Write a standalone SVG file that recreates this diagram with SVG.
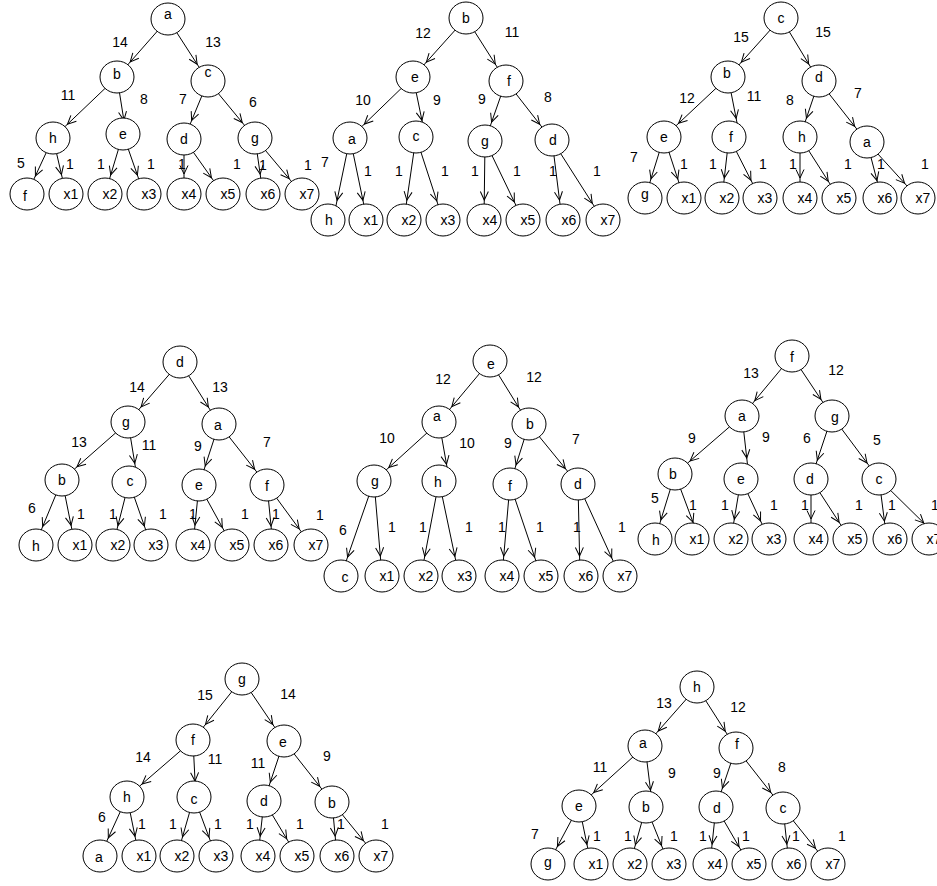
<svg xmlns="http://www.w3.org/2000/svg" width="937" height="886" viewBox="0 0 937 886">
<defs>
<marker id="arr" markerUnits="userSpaceOnUse" markerWidth="60" markerHeight="20" refX="50" refY="10" orient="auto"><path d="M21.5,6 L30,10 L21.5,14" fill="none" stroke="#000" stroke-width="1"/></marker>
<style>
.edges line{stroke:#000;stroke-width:1;marker-end:url(#arr)}
.node ellipse{fill:#fff;stroke:#000;stroke-width:1}
text{font-family:"Liberation Sans",Arial,sans-serif;font-size:14px;text-anchor:middle;dominant-baseline:central;fill:#000}
</style>
</defs>
<rect width="937" height="886" fill="#fff"/>

<!-- Tree 1 -->
<g id="tree1">
<g id="t1-edges" class="edges">
<line x1="168" y1="19" x2="117" y2="77"/><text x="120" y="42">14</text>
<line x1="168" y1="19" x2="208" y2="81"/><text x="213" y="42">13</text>
<line x1="117" y1="77" x2="53" y2="138"/><text x="68" y="95">11</text>
<line x1="117" y1="77" x2="127" y2="140"/><text x="144" y="99">8</text>
<line x1="208" y1="81" x2="184" y2="139"/><text x="183" y="99">7</text>
<line x1="208" y1="81" x2="255" y2="138"/><text x="253" y="102">6</text>
<line x1="53" y1="138" x2="27" y2="194"/><text x="21" y="163">5</text>
<line x1="53" y1="138" x2="66" y2="194"/><text x="70" y="164">1</text>
<line x1="123" y1="134" x2="105" y2="194"/><text x="101" y="164">1</text>
<line x1="123" y1="134" x2="144" y2="194"/><text x="151" y="164">1</text>
<line x1="184" y1="139" x2="184" y2="194"/><text x="182" y="164">1</text>
<line x1="184" y1="139" x2="223" y2="194"/><text x="237" y="164">1</text>
<line x1="255" y1="138" x2="263" y2="194"/><text x="263" y="165">1</text>
<line x1="255" y1="138" x2="302" y2="194"/><text x="308" y="165">1</text>
</g>
<g id="t1-a" class="node"><ellipse cx="168" cy="19" rx="17" ry="16"/><text x="168" y="14">a</text></g>
<g id="t1-b" class="node"><ellipse cx="117" cy="77" rx="17" ry="16"/><text x="117" y="74">b</text></g>
<g id="t1-c" class="node"><ellipse cx="208" cy="81" rx="17" ry="16"/><text x="208" y="72">c</text></g>
<g id="t1-h" class="node"><ellipse cx="53" cy="138" rx="17" ry="16"/><text x="53" y="138">h</text></g>
<g id="t1-e" class="node"><ellipse cx="123" cy="134" rx="17" ry="16"/><text x="123" y="134">e</text></g>
<g id="t1-d" class="node"><ellipse cx="184" cy="139" rx="17" ry="16"/><text x="184" y="139">d</text></g>
<g id="t1-g" class="node"><ellipse cx="255" cy="138" rx="17" ry="16"/><text x="255" y="138">g</text></g>
<g id="t1-f" class="node"><ellipse cx="27" cy="194" rx="17" ry="16"/><text x="25" y="196">f</text></g>
<g id="t1-x1" class="node"><ellipse cx="66" cy="194" rx="17" ry="16"/><text x="71" y="194">x1</text></g>
<g id="t1-x2" class="node"><ellipse cx="105" cy="194" rx="17" ry="16"/><text x="110" y="194">x2</text></g>
<g id="t1-x3" class="node"><ellipse cx="144" cy="194" rx="17" ry="16"/><text x="149" y="194">x3</text></g>
<g id="t1-x4" class="node"><ellipse cx="184" cy="194" rx="17" ry="16"/><text x="189" y="194">x4</text></g>
<g id="t1-x5" class="node"><ellipse cx="223" cy="194" rx="17" ry="16"/><text x="228" y="194">x5</text></g>
<g id="t1-x6" class="node"><ellipse cx="263" cy="194" rx="17" ry="16"/><text x="268" y="194">x6</text></g>
<g id="t1-x7" class="node"><ellipse cx="302" cy="194" rx="17" ry="16"/><text x="307" y="194">x7</text></g>
</g>

<!-- Tree 2 -->
<g id="tree2">
<g id="t2-edges" class="edges">
<line x1="466" y1="18" x2="413" y2="77"/><text x="423" y="33">12</text>
<line x1="466" y1="18" x2="506" y2="81"/><text x="512" y="32">11</text>
<line x1="413" y1="77" x2="350" y2="138"/><text x="363" y="100">10</text>
<line x1="413" y1="77" x2="426" y2="140"/><text x="437" y="100">9</text>
<line x1="506" y1="81" x2="485" y2="141"/><text x="482" y="99">9</text>
<line x1="506" y1="81" x2="552" y2="140"/><text x="548" y="97">8</text>
<line x1="350" y1="138" x2="333" y2="220"/><text x="325" y="162">7</text>
<line x1="350" y1="138" x2="367" y2="220"/><text x="368" y="171">1</text>
<line x1="416" y1="137" x2="404" y2="220"/><text x="399" y="171">1</text>
<line x1="416" y1="137" x2="443" y2="220"/><text x="445" y="171">1</text>
<line x1="485" y1="141" x2="484" y2="220"/><text x="475" y="171">1</text>
<line x1="485" y1="141" x2="523" y2="220"/><text x="517" y="171">1</text>
<line x1="552" y1="140" x2="562" y2="220"/><text x="553" y="171">1</text>
<line x1="552" y1="140" x2="603" y2="220"/><text x="597" y="171">1</text>
</g>
<g id="t2-b" class="node"><ellipse cx="466" cy="18" rx="17" ry="16"/><text x="466" y="18">b</text></g>
<g id="t2-e" class="node"><ellipse cx="413" cy="77" rx="17" ry="16"/><text x="415" y="77">e</text></g>
<g id="t2-f" class="node"><ellipse cx="506" cy="81" rx="17" ry="16"/><text x="509" y="81">f</text></g>
<g id="t2-a" class="node"><ellipse cx="350" cy="138" rx="17" ry="16"/><text x="352" y="139">a</text></g>
<g id="t2-c" class="node"><ellipse cx="416" cy="137" rx="17" ry="16"/><text x="416" y="136">c</text></g>
<g id="t2-g" class="node"><ellipse cx="485" cy="141" rx="17" ry="16"/><text x="485" y="141">g</text></g>
<g id="t2-d" class="node"><ellipse cx="552" cy="140" rx="17" ry="16"/><text x="553" y="140">d</text></g>
<g id="t2-h" class="node"><ellipse cx="328" cy="220" rx="17" ry="16"/><text x="329" y="220">h</text></g>
<g id="t2-x1" class="node"><ellipse cx="366" cy="220" rx="17" ry="16"/><text x="371" y="220">x1</text></g>
<g id="t2-x2" class="node"><ellipse cx="404" cy="220" rx="17" ry="16"/><text x="409" y="220">x2</text></g>
<g id="t2-x3" class="node"><ellipse cx="443" cy="220" rx="17" ry="16"/><text x="448" y="220">x3</text></g>
<g id="t2-x4" class="node"><ellipse cx="484" cy="220" rx="17" ry="16"/><text x="490" y="220">x4</text></g>
<g id="t2-x5" class="node"><ellipse cx="523" cy="220" rx="17" ry="16"/><text x="528" y="220">x5</text></g>
<g id="t2-x6" class="node"><ellipse cx="563" cy="220" rx="17" ry="16"/><text x="569" y="220">x6</text></g>
<g id="t2-x7" class="node"><ellipse cx="603" cy="220" rx="17" ry="16"/><text x="608" y="220">x7</text></g>
</g>

<!-- Tree 3 -->
<g id="tree3">
<g id="t3-edges" class="edges">
<line x1="781" y1="18" x2="728" y2="77"/><text x="741" y="37">15</text>
<line x1="781" y1="18" x2="819" y2="81"/><text x="823" y="32">15</text>
<line x1="728" y1="77" x2="664" y2="137"/><text x="687" y="98">12</text>
<line x1="728" y1="77" x2="740" y2="138"/><text x="754" y="96">11</text>
<line x1="819" y1="81" x2="800" y2="137"/><text x="790" y="100">8</text>
<line x1="819" y1="81" x2="867" y2="142"/><text x="858" y="93">7</text>
<line x1="664" y1="137" x2="645" y2="198"/><text x="634" y="157">7</text>
<line x1="664" y1="137" x2="684" y2="198"/><text x="684" y="164">1</text>
<line x1="729" y1="137" x2="722" y2="198"/><text x="713" y="164">1</text>
<line x1="729" y1="137" x2="760" y2="198"/><text x="763" y="164">1</text>
<line x1="800" y1="137" x2="800" y2="198"/><text x="793" y="164">1</text>
<line x1="800" y1="137" x2="839" y2="198"/><text x="848" y="164">1</text>
<line x1="867" y1="142" x2="882" y2="200"/><text x="881" y="164">1</text>
<line x1="867" y1="142" x2="918" y2="198"/><text x="925" y="164">1</text>
</g>
<g id="t3-c" class="node"><ellipse cx="781" cy="18" rx="17" ry="16"/><text x="781" y="18">c</text></g>
<g id="t3-b" class="node"><ellipse cx="728" cy="77" rx="17" ry="16"/><text x="727" y="73">b</text></g>
<g id="t3-d" class="node"><ellipse cx="819" cy="81" rx="17" ry="16"/><text x="819" y="77">d</text></g>
<g id="t3-e" class="node"><ellipse cx="664" cy="137" rx="17" ry="16"/><text x="664" y="137">e</text></g>
<g id="t3-f" class="node"><ellipse cx="729" cy="137" rx="17" ry="16"/><text x="731" y="137">f</text></g>
<g id="t3-h" class="node"><ellipse cx="800" cy="137" rx="17" ry="16"/><text x="802" y="137">h</text></g>
<g id="t3-a" class="node"><ellipse cx="867" cy="142" rx="17" ry="16"/><text x="867" y="142">a</text></g>
<g id="t3-g" class="node"><ellipse cx="645" cy="198" rx="17" ry="16"/><text x="645" y="194">g</text></g>
<g id="t3-x1" class="node"><ellipse cx="684" cy="198" rx="17" ry="16"/><text x="689" y="198">x1</text></g>
<g id="t3-x2" class="node"><ellipse cx="722" cy="198" rx="17" ry="16"/><text x="727" y="198">x2</text></g>
<g id="t3-x3" class="node"><ellipse cx="760" cy="198" rx="17" ry="16"/><text x="765" y="198">x3</text></g>
<g id="t3-x4" class="node"><ellipse cx="800" cy="198" rx="17" ry="16"/><text x="805" y="198">x4</text></g>
<g id="t3-x5" class="node"><ellipse cx="839" cy="198" rx="17" ry="16"/><text x="844" y="198">x5</text></g>
<g id="t3-x6" class="node"><ellipse cx="880" cy="198" rx="17" ry="16"/><text x="885" y="198">x6</text></g>
<g id="t3-x7" class="node"><ellipse cx="918" cy="198" rx="17" ry="16"/><text x="923" y="198">x7</text></g>
</g>

<!-- Tree 4 -->
<g id="tree4">
<g id="t4-edges" class="edges">
<line x1="180" y1="362" x2="128" y2="422"/><text x="137" y="387">14</text>
<line x1="180" y1="362" x2="219" y2="424"/><text x="220" y="387">13</text>
<line x1="128" y1="422" x2="62" y2="480"/><text x="79" y="442">13</text>
<line x1="128" y1="422" x2="138" y2="483"/><text x="149" y="445">11</text>
<line x1="219" y1="424" x2="199" y2="485"/><text x="198" y="446">9</text>
<line x1="219" y1="424" x2="267" y2="485"/><text x="267" y="442">7</text>
<line x1="62" y1="480" x2="35" y2="545"/><text x="32" y="508">6</text>
<line x1="62" y1="480" x2="75" y2="545"/><text x="81" y="514">1</text>
<line x1="129" y1="482" x2="113" y2="545"/><text x="113" y="514">1</text>
<line x1="129" y1="482" x2="151" y2="545"/><text x="163" y="514">1</text>
<line x1="199" y1="485" x2="193" y2="545"/><text x="193" y="514">1</text>
<line x1="199" y1="485" x2="232" y2="545"/><text x="245" y="514">1</text>
<line x1="267" y1="485" x2="273" y2="546"/><text x="276" y="514">1</text>
<line x1="267" y1="485" x2="311" y2="545"/><text x="320" y="515">1</text>
</g>
<g id="t4-d" class="node"><ellipse cx="180" cy="362" rx="17" ry="16"/><text x="180" y="362">d</text></g>
<g id="t4-g" class="node"><ellipse cx="128" cy="422" rx="17" ry="16"/><text x="126" y="422">g</text></g>
<g id="t4-a" class="node"><ellipse cx="219" cy="424" rx="17" ry="16"/><text x="218" y="425">a</text></g>
<g id="t4-b" class="node"><ellipse cx="62" cy="480" rx="17" ry="16"/><text x="62" y="480">b</text></g>
<g id="t4-c" class="node"><ellipse cx="129" cy="482" rx="17" ry="16"/><text x="130" y="481">c</text></g>
<g id="t4-e" class="node"><ellipse cx="199" cy="485" rx="17" ry="16"/><text x="199" y="485">e</text></g>
<g id="t4-f" class="node"><ellipse cx="267" cy="485" rx="17" ry="16"/><text x="267" y="486">f</text></g>
<g id="t4-h" class="node"><ellipse cx="36" cy="545" rx="17" ry="16"/><text x="36" y="546">h</text></g>
<g id="t4-x1" class="node"><ellipse cx="75" cy="545" rx="17" ry="16"/><text x="80" y="545">x1</text></g>
<g id="t4-x2" class="node"><ellipse cx="113" cy="545" rx="17" ry="16"/><text x="118" y="545">x2</text></g>
<g id="t4-x3" class="node"><ellipse cx="151" cy="545" rx="17" ry="16"/><text x="156" y="545">x3</text></g>
<g id="t4-x4" class="node"><ellipse cx="193" cy="545" rx="17" ry="16"/><text x="198" y="545">x4</text></g>
<g id="t4-x5" class="node"><ellipse cx="232" cy="545" rx="17" ry="16"/><text x="237" y="545">x5</text></g>
<g id="t4-x6" class="node"><ellipse cx="271" cy="545" rx="17" ry="16"/><text x="276" y="545">x6</text></g>
<g id="t4-x7" class="node"><ellipse cx="311" cy="545" rx="17" ry="16"/><text x="316" y="545">x7</text></g>
</g>

<!-- Tree 5 -->
<g id="tree5">
<g id="t5-edges" class="edges">
<line x1="490" y1="361" x2="439" y2="422"/><text x="443" y="379">12</text>
<line x1="490" y1="361" x2="529" y2="424"/><text x="534" y="377">12</text>
<line x1="439" y1="422" x2="374" y2="481"/><text x="387" y="438">10</text>
<line x1="439" y1="422" x2="450" y2="484"/><text x="467" y="443">10</text>
<line x1="529" y1="424" x2="510" y2="484"/><text x="508" y="443">9</text>
<line x1="529" y1="424" x2="578" y2="484"/><text x="576" y="439">7</text>
<line x1="374" y1="481" x2="341" y2="576"/><text x="343" y="530">6</text>
<line x1="374" y1="481" x2="382" y2="576"/><text x="392" y="527">1</text>
<line x1="439" y1="481" x2="421" y2="576"/><text x="423" y="527">1</text>
<line x1="439" y1="481" x2="459" y2="576"/><text x="469" y="527">1</text>
<line x1="510" y1="484" x2="502" y2="576"/><text x="502" y="527">1</text>
<line x1="510" y1="484" x2="541" y2="576"/><text x="540" y="527">1</text>
<line x1="578" y1="484" x2="580" y2="576"/><text x="577" y="527">1</text>
<line x1="578" y1="484" x2="620" y2="576"/><text x="622" y="527">1</text>
</g>
<g id="t5-e" class="node"><ellipse cx="490" cy="361" rx="17" ry="16"/><text x="491" y="364">e</text></g>
<g id="t5-a" class="node"><ellipse cx="439" cy="422" rx="17" ry="16"/><text x="437" y="416">a</text></g>
<g id="t5-b" class="node"><ellipse cx="529" cy="424" rx="17" ry="16"/><text x="530" y="424">b</text></g>
<g id="t5-g" class="node"><ellipse cx="374" cy="481" rx="17" ry="16"/><text x="375" y="481">g</text></g>
<g id="t5-h" class="node"><ellipse cx="439" cy="481" rx="17" ry="16"/><text x="438" y="482">h</text></g>
<g id="t5-f" class="node"><ellipse cx="510" cy="484" rx="17" ry="16"/><text x="510" y="486">f</text></g>
<g id="t5-d" class="node"><ellipse cx="578" cy="484" rx="17" ry="16"/><text x="578" y="484">d</text></g>
<g id="t5-c" class="node"><ellipse cx="341" cy="576" rx="17" ry="16"/><text x="345" y="577">c</text></g>
<g id="t5-x1" class="node"><ellipse cx="382" cy="576" rx="17" ry="16"/><text x="387" y="576">x1</text></g>
<g id="t5-x2" class="node"><ellipse cx="421" cy="576" rx="17" ry="16"/><text x="426" y="576">x2</text></g>
<g id="t5-x3" class="node"><ellipse cx="459" cy="576" rx="17" ry="16"/><text x="465" y="576">x3</text></g>
<g id="t5-x4" class="node"><ellipse cx="502" cy="576" rx="17" ry="16"/><text x="507" y="576">x4</text></g>
<g id="t5-x5" class="node"><ellipse cx="541" cy="576" rx="17" ry="16"/><text x="546" y="576">x5</text></g>
<g id="t5-x6" class="node"><ellipse cx="581" cy="576" rx="17" ry="16"/><text x="586" y="576">x6</text></g>
<g id="t5-x7" class="node"><ellipse cx="620" cy="576" rx="17" ry="16"/><text x="625" y="576">x7</text></g>
</g>

<!-- Tree 6 -->
<g id="tree6">
<g id="t6-edges" class="edges">
<line x1="792" y1="356" x2="742" y2="416"/><text x="751" y="373">13</text>
<line x1="792" y1="356" x2="832" y2="416"/><text x="836" y="370">12</text>
<line x1="742" y1="416" x2="675" y2="474"/><text x="692" y="438">9</text>
<line x1="742" y1="416" x2="749" y2="478"/><text x="766" y="437">9</text>
<line x1="832" y1="416" x2="811" y2="479"/><text x="807" y="438">6</text>
<line x1="832" y1="416" x2="879" y2="479"/><text x="877" y="440">5</text>
<line x1="675" y1="474" x2="655" y2="539"/><text x="655" y="498">5</text>
<line x1="675" y1="474" x2="700" y2="541"/><text x="693" y="505">1</text>
<line x1="741" y1="479" x2="731" y2="539"/><text x="725" y="505">1</text>
<line x1="741" y1="479" x2="769" y2="539"/><text x="774" y="505">1</text>
<line x1="811" y1="479" x2="811" y2="539"/><text x="805" y="505">1</text>
<line x1="811" y1="479" x2="850" y2="539"/><text x="859" y="505">1</text>
<line x1="879" y1="479" x2="887" y2="541"/><text x="892" y="505">1</text>
<line x1="879" y1="479" x2="938" y2="537"/><text x="935" y="505">1</text>
</g>
<g id="t6-f" class="node"><ellipse cx="792" cy="356" rx="17" ry="16"/><text x="792" y="357">f</text></g>
<g id="t6-a" class="node"><ellipse cx="742" cy="416" rx="17" ry="16"/><text x="742" y="416">a</text></g>
<g id="t6-g" class="node"><ellipse cx="832" cy="416" rx="17" ry="16"/><text x="835" y="417">g</text></g>
<g id="t6-b" class="node"><ellipse cx="675" cy="474" rx="17" ry="16"/><text x="673" y="474">b</text></g>
<g id="t6-e" class="node"><ellipse cx="741" cy="479" rx="17" ry="16"/><text x="741" y="479">e</text></g>
<g id="t6-d" class="node"><ellipse cx="811" cy="479" rx="17" ry="16"/><text x="810" y="479">d</text></g>
<g id="t6-c" class="node"><ellipse cx="879" cy="479" rx="17" ry="16"/><text x="879" y="479">c</text></g>
<g id="t6-h" class="node"><ellipse cx="655" cy="539" rx="17" ry="16"/><text x="656" y="540">h</text></g>
<g id="t6-x1" class="node"><ellipse cx="692" cy="539" rx="17" ry="16"/><text x="697" y="539">x1</text></g>
<g id="t6-x2" class="node"><ellipse cx="731" cy="539" rx="17" ry="16"/><text x="736" y="539">x2</text></g>
<g id="t6-x3" class="node"><ellipse cx="769" cy="539" rx="17" ry="16"/><text x="774" y="539">x3</text></g>
<g id="t6-x4" class="node"><ellipse cx="811" cy="539" rx="17" ry="16"/><text x="816" y="539">x4</text></g>
<g id="t6-x5" class="node"><ellipse cx="850" cy="539" rx="17" ry="16"/><text x="855" y="539">x5</text></g>
<g id="t6-x6" class="node"><ellipse cx="890" cy="539" rx="17" ry="16"/><text x="895" y="539">x6</text></g>
<g id="t6-x7" class="node"><ellipse cx="929" cy="539" rx="17" ry="16"/><text x="934" y="539">x7</text></g>
</g>

<!-- Tree 7 -->
<g id="tree7">
<g id="t7-edges" class="edges">
<line x1="242" y1="679" x2="193" y2="740"/><text x="205" y="695">15</text>
<line x1="242" y1="679" x2="284" y2="741"/><text x="288" y="694">14</text>
<line x1="193" y1="740" x2="127" y2="797"/><text x="143" y="757">14</text>
<line x1="193" y1="740" x2="196" y2="801"/><text x="215" y="759">11</text>
<line x1="284" y1="741" x2="264" y2="801"/><text x="258" y="763">11</text>
<line x1="284" y1="741" x2="332" y2="802"/><text x="327" y="756">9</text>
<line x1="127" y1="797" x2="100" y2="856"/><text x="102" y="817">6</text>
<line x1="127" y1="797" x2="139" y2="856"/><text x="142" y="824">1</text>
<line x1="194" y1="797" x2="177" y2="856"/><text x="173" y="824">1</text>
<line x1="194" y1="797" x2="216" y2="856"/><text x="218" y="824">1</text>
<line x1="264" y1="801" x2="258" y2="856"/><text x="250" y="824">1</text>
<line x1="264" y1="801" x2="297" y2="856"/><text x="300" y="824">1</text>
<line x1="332" y1="802" x2="337" y2="856"/><text x="341" y="824">1</text>
<line x1="332" y1="802" x2="376" y2="856"/><text x="385" y="824">1</text>
</g>
<g id="t7-g" class="node"><ellipse cx="242" cy="679" rx="17" ry="16"/><text x="242" y="679">g</text></g>
<g id="t7-f" class="node"><ellipse cx="193" cy="740" rx="17" ry="16"/><text x="193" y="740">f</text></g>
<g id="t7-e" class="node"><ellipse cx="284" cy="741" rx="17" ry="16"/><text x="283" y="742">e</text></g>
<g id="t7-h" class="node"><ellipse cx="127" cy="797" rx="17" ry="16"/><text x="127" y="797">h</text></g>
<g id="t7-c" class="node"><ellipse cx="194" cy="797" rx="17" ry="16"/><text x="194" y="799">c</text></g>
<g id="t7-d" class="node"><ellipse cx="264" cy="801" rx="17" ry="16"/><text x="264" y="801">d</text></g>
<g id="t7-b" class="node"><ellipse cx="332" cy="802" rx="17" ry="16"/><text x="332" y="803">b</text></g>
<g id="t7-a" class="node"><ellipse cx="100" cy="856" rx="17" ry="16"/><text x="99" y="857">a</text></g>
<g id="t7-x1" class="node"><ellipse cx="139" cy="856" rx="17" ry="16"/><text x="144" y="856">x1</text></g>
<g id="t7-x2" class="node"><ellipse cx="177" cy="856" rx="17" ry="16"/><text x="182" y="856">x2</text></g>
<g id="t7-x3" class="node"><ellipse cx="216" cy="856" rx="17" ry="16"/><text x="221" y="856">x3</text></g>
<g id="t7-x4" class="node"><ellipse cx="258" cy="856" rx="17" ry="16"/><text x="263" y="856">x4</text></g>
<g id="t7-x5" class="node"><ellipse cx="297" cy="856" rx="17" ry="16"/><text x="302" y="856">x5</text></g>
<g id="t7-x6" class="node"><ellipse cx="337" cy="856" rx="17" ry="16"/><text x="342" y="856">x6</text></g>
<g id="t7-x7" class="node"><ellipse cx="376" cy="856" rx="17" ry="16"/><text x="381" y="856">x7</text></g>
</g>

<!-- Tree 8 -->
<g id="tree8">
<g id="t8-edges" class="edges">
<line x1="697" y1="687" x2="645" y2="746"/><text x="664" y="703">13</text>
<line x1="697" y1="687" x2="736" y2="748"/><text x="738" y="707">12</text>
<line x1="645" y1="746" x2="579" y2="806"/><text x="600" y="767">11</text>
<line x1="645" y1="746" x2="653" y2="810"/><text x="672" y="773">9</text>
<line x1="736" y1="748" x2="716" y2="807"/><text x="717" y="773">9</text>
<line x1="736" y1="748" x2="783" y2="808"/><text x="782" y="767">8</text>
<line x1="579" y1="806" x2="548" y2="864"/><text x="535" y="834">7</text>
<line x1="579" y1="806" x2="591" y2="864"/><text x="597" y="836">1</text>
<line x1="646" y1="807" x2="630" y2="864"/><text x="628" y="836">1</text>
<line x1="646" y1="807" x2="669" y2="864"/><text x="674" y="836">1</text>
<line x1="716" y1="807" x2="710" y2="864"/><text x="703" y="836">1</text>
<line x1="716" y1="807" x2="749" y2="864"/><text x="746" y="836">1</text>
<line x1="783" y1="808" x2="789" y2="864"/><text x="796" y="836">1</text>
<line x1="783" y1="808" x2="828" y2="864"/><text x="842" y="836">1</text>
</g>
<g id="t8-h" class="node"><ellipse cx="697" cy="687" rx="17" ry="16"/><text x="697" y="687">h</text></g>
<g id="t8-a" class="node"><ellipse cx="645" cy="746" rx="17" ry="16"/><text x="643" y="743">a</text></g>
<g id="t8-f" class="node"><ellipse cx="736" cy="748" rx="17" ry="16"/><text x="737" y="744">f</text></g>
<g id="t8-e" class="node"><ellipse cx="579" cy="806" rx="17" ry="16"/><text x="579" y="806">e</text></g>
<g id="t8-b" class="node"><ellipse cx="646" cy="807" rx="17" ry="16"/><text x="646" y="807">b</text></g>
<g id="t8-d" class="node"><ellipse cx="716" cy="807" rx="17" ry="16"/><text x="717" y="808">d</text></g>
<g id="t8-c" class="node"><ellipse cx="783" cy="808" rx="17" ry="16"/><text x="783" y="808">c</text></g>
<g id="t8-g" class="node"><ellipse cx="548" cy="864" rx="17" ry="16"/><text x="548" y="862">g</text></g>
<g id="t8-x1" class="node"><ellipse cx="591" cy="864" rx="17" ry="16"/><text x="596" y="864">x1</text></g>
<g id="t8-x2" class="node"><ellipse cx="630" cy="864" rx="17" ry="16"/><text x="635" y="864">x2</text></g>
<g id="t8-x3" class="node"><ellipse cx="669" cy="864" rx="17" ry="16"/><text x="674" y="864">x3</text></g>
<g id="t8-x4" class="node"><ellipse cx="710" cy="864" rx="17" ry="16"/><text x="715" y="864">x4</text></g>
<g id="t8-x5" class="node"><ellipse cx="749" cy="864" rx="17" ry="16"/><text x="754" y="864">x5</text></g>
<g id="t8-x6" class="node"><ellipse cx="789" cy="864" rx="17" ry="16"/><text x="794" y="864">x6</text></g>
<g id="t8-x7" class="node"><ellipse cx="828" cy="864" rx="17" ry="16"/><text x="833" y="864">x7</text></g>
</g>
</svg>
